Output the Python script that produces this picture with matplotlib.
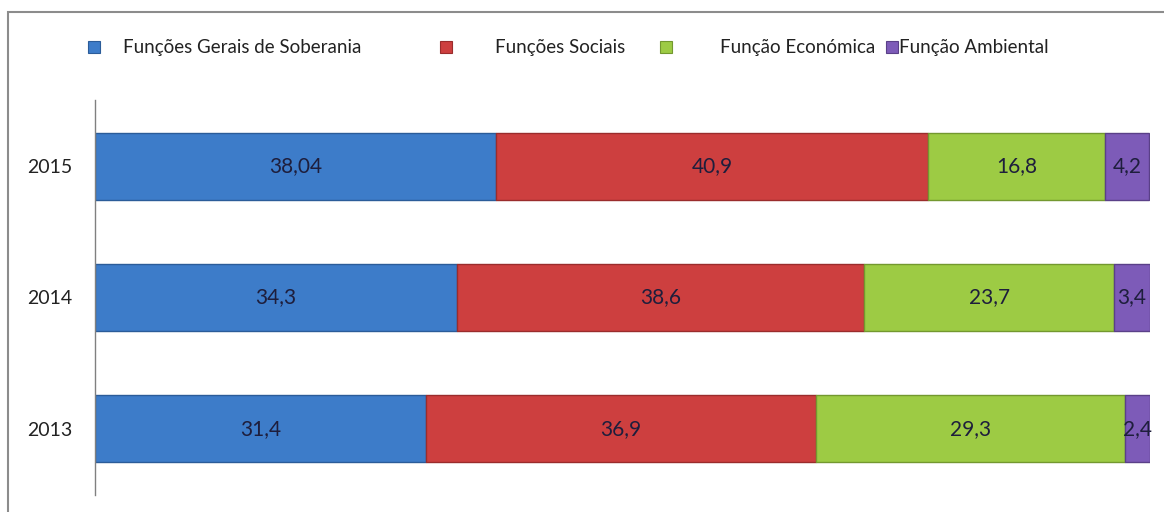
import matplotlib
matplotlib.use("Agg")
import matplotlib.pyplot as plt
from matplotlib.patches import Rectangle

years = ["2013", "2014", "2015"]
series_names = ["Funções Gerais de Soberania", "Funções Sociais", "Função Económica", "Função Ambiental"]
soberania = [31.4, 34.3, 38.04]
sociais = [36.9, 38.6, 40.9]
economica = [29.3, 23.7, 16.8]
ambiental = [2.4, 3.4, 4.2]
series = [soberania, sociais, economica, ambiental]
colors = ["#3D7CC9", "#CD3F3F", "#9DCB44", "#7D5BB8"]
edges = ["#2B5C99", "#9A2C2C", "#73982F", "#5A4088"]

plt.rcParams['font.family'] = ['Lato', 'DejaVu Sans']

W, H = 1164, 512
fig = plt.figure(figsize=(W / 100, H / 100), dpi=100)
ax = fig.add_axes([0.0816, 0.034, 0.9064, 0.770])

def fmt(v):
    s = ("%.2f" % v).rstrip("0").rstrip(".")
    return s.replace(".", ",")

left = [0.0] * len(years)
for vals, c, e, name in zip(series, colors, edges, series_names):
    ax.barh(range(len(years)), vals, left=left, height=0.51, color=c,
            edgecolor=e, linewidth=1.0, label=name)
    for i, (v, l) in enumerate(zip(vals, left)):
        ax.text(l + v / 2, i, fmt(v), ha="center", va="center",
                fontsize=15, color="#1E1E3C")
    left = [a + b for a, b in zip(left, vals)]

ax.set_xlim(0, 100)
ax.set_ylim(-0.5, 2.5)
ax.set_yticks(range(len(years)))
ax.set_yticklabels(years, fontsize=14, color="#222222")
ax.set_xticks([])
ax.tick_params(axis="y", length=0, pad=16)
for s in ["top", "right", "bottom"]:
    ax.spines[s].set_visible(False)
ax.spines["left"].set_color("#808080")
ax.spines["left"].set_linewidth(1.0)

# manual legend (irregular spacing as in reference)
marker_x = [88, 440, 660, 886]
text_x = [123, 495, 720, 899]
ly = 47
for mx, tx, c, e, name in zip(marker_x, text_x, colors, edges, series_names):
    fig.patches.append(Rectangle((mx / W, 1 - (ly + 6) / H), 12 / W, 12 / H,
                                 transform=fig.transFigure, facecolor=c, edgecolor=e, linewidth=0.8))
    fig.text(tx / W, 1 - ly / H, name, ha="left", va="center", fontsize=13.5, color="#222222")

border = Rectangle((8 / W, -0.1), 1.2, (1 - 12 / H) + 0.1, transform=fig.transFigure,
                   fill=False, edgecolor="#8C8C8C", linewidth=1.5)
fig.patches.append(border)

fig.savefig("out.png", dpi=100)
